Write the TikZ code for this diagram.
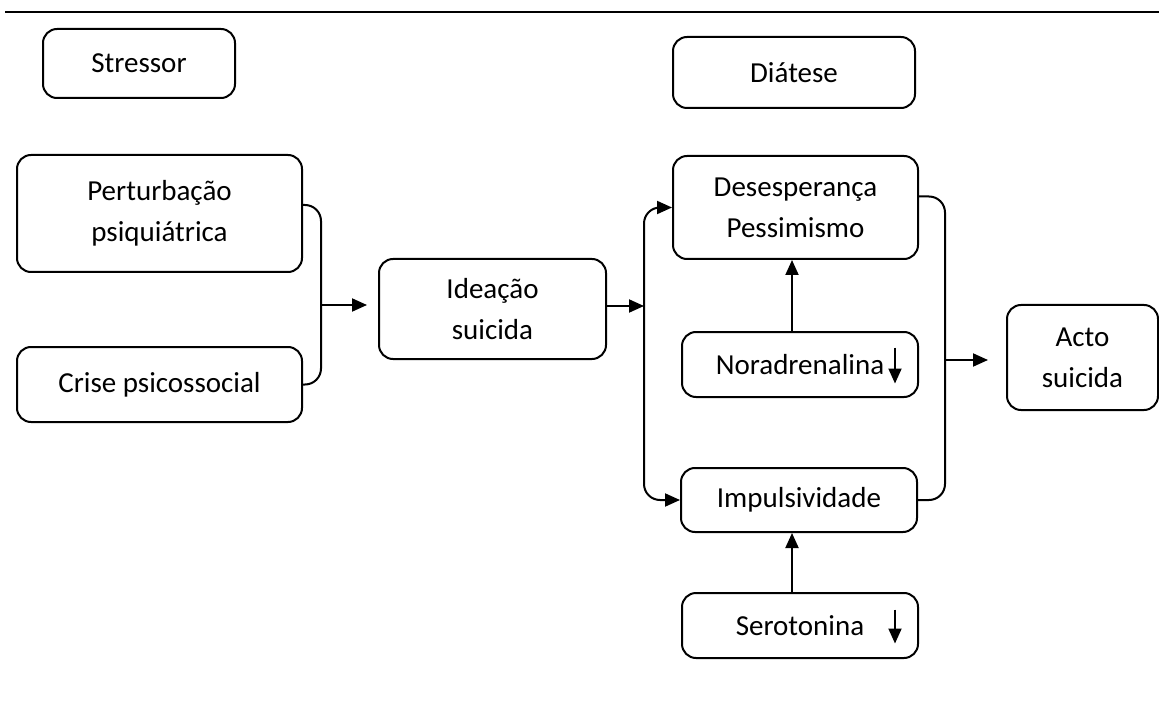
\documentclass[tikz,border=0pt]{standalone}
\usepackage{fontspec}
\setmainfont{Carlito}
\usetikzlibrary{arrows.meta}
\begin{document}
\begin{tikzpicture}
    [
        x=1pt, y=-1pt,
        box/.style={rectangle, draw, rounded corners=14pt, line width=2pt,
            align=center, inner sep=0pt, font=\fontsize{29}{41}\selectfont},
        arr/.style={line width=2pt, -{Triangle[length=15pt,width=13pt]}},
        link/.style={line width=2pt, rounded corners=16pt},
    ]
    \useasboundingbox (0,0) rectangle (1159,711);
    \coordinate (rl) at (5,12);
    \coordinate (rr) at (1159,12);
    \draw [line width=2.6pt] (rl) -- (rr);
    \node (str) at (139,63.5) [box, minimum width=192pt, minimum height=69pt] {Stressor};
    \node (dia) at (794,72.5) [box, minimum width=242pt, minimum height=71pt] {Diátese};
    \node (pert) at (159.5,213.5) [box, minimum width=285pt, minimum height=117pt] {Perturbação\\psiquiátrica};
    \node (crise) at (159.5,384.5) [box, minimum width=285pt, minimum height=75pt] {Crise psicossocial};
    \node (idea) at (492.5,309) [box, minimum width=227pt, minimum height=100pt] {Ideação\\suicida};
    \node (des) at (795.5,207.5) [box, minimum width=245pt, minimum height=103pt] {Desesperança\\Pessimismo};
    \node (nor) at (800,364.5) [box, minimum width=236pt, minimum height=65pt] {Noradrenalina};
    \node (imp) at (799,500) [box, minimum width=236pt, minimum height=64pt] {Impulsividade};
    \node (ser) at (800,625.5) [box, minimum width=236pt, minimum height=65pt] {Serotonina};
    \node (acto) at (1082.5,357.5) [box, minimum width=151pt, minimum height=105pt] {Acto\\suicida};
    \coordinate (j1) at (321,305);
    \coordinate (j2) at (644,306);
    \coordinate (j3) at (945,360);
    \draw [link] ([yshift=8.5pt]pert.east) -| (j1) |- (crise.east);
    \draw [arr, shorten >=11pt] (j1) -- (j1 -| idea.west);
    \draw [arr] (idea.east |- j2) -- (j2);
    \draw [arr, link] (j2) |- (des.west);
    \draw [arr, link] (j2) |- (imp.west);
    \draw [link] ([yshift=11pt]des.east) -| (j3) |- (imp.east);
    \draw [arr, shorten >=18pt] (j3) -- (j3 -| acto.west);
    \draw [arr] ([xshift=-8pt]nor.north) -- ([xshift=-8pt]nor.north |- des.south);
    \draw [arr] ([xshift=-8pt]ser.north) -- ([xshift=-8pt]ser.north |- imp.south);
    \draw [arr] ([xshift=-24pt,yshift=17pt]nor.east) -- ([xshift=-24pt,yshift=-19pt]nor.east);
    \draw [arr] ([xshift=-24pt,yshift=16pt]ser.east) -- ([xshift=-24pt,yshift=-18pt]ser.east);
\end{tikzpicture}
\end{document}
